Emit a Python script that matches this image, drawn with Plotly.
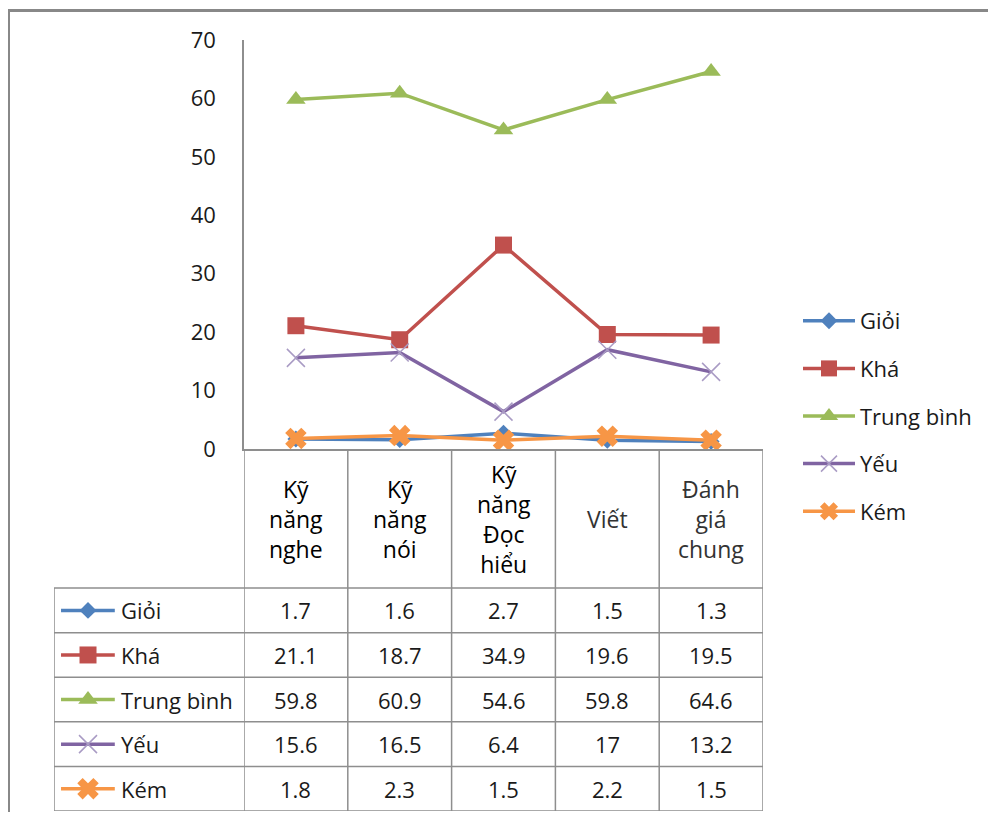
import plotly.graph_objects as go

# ---- data ----
categories = ["Kỹ năng nghe", "Kỹ năng nói", "Kỹ năng Đọc hiểu", "Viết", "Đánh giá chung"]
header_labels = ["Kỹ<br>năng<br>nghe", "Kỹ<br>năng<br>nói", "Kỹ<br>năng<br>Đọc<br>hiểu", "Viết", "Đánh<br>giá<br>chung"]
series_names = ["Giỏi", "Khá", "Trung bình", "Yếu", "Kém"]
gioi = [1.7, 1.6, 2.7, 1.5, 1.3]
kha = [21.1, 18.7, 34.9, 19.6, 19.5]
trung_binh = [59.8, 60.9, 54.6, 59.8, 64.6]
yeu = [15.6, 16.5, 6.4, 17, 13.2]
kem = [1.8, 2.3, 1.5, 2.2, 1.5]
y_ticks = [0, 10, 20, 30, 40, 50, 60, 70]

values = [gioi, kha, trung_binh, yeu, kem]
colors = ["#4F81BD", "#C0504D", "#9BBB59", "#8064A2", "#F79646"]
symbols = ["diamond", "square", "triangle-up", "x-thin", "x"]
msizes = [13, 17, 17, 18, 19]
mline_colors = ["#4F81BD", "#C0504D", "#9BBB59", "#A99BC4", "#F79646"]
mline_widths = [0, 0, 0, 1.5, 0]

# page has an 8px body margin, so the figure is shrunk to fit the window
OFF = 8
W, H = 996 - 2 * OFF, 820 - 2 * OFF
FONT = "Open Sans"
TXT = "#1a1a1a"
GRID = "#8e8e8e"


def fx(p):
    return (p - OFF) / W


def fy(p):
    return 1 - (p - OFF) / H


HDR = 3.12          # header height in table-row units
NROW = len(series_names)
TOT = HDR + NROW

fig = go.Figure()

# main lines
for name, vals, c, s, ms, mlc, mlw in zip(series_names, values, colors, symbols, msizes, mline_colors, mline_widths):
    fig.add_trace(go.Scatter(
        x=categories, y=vals, name=name, mode="lines+markers",
        line=dict(color=c, width=3.5),
        marker=dict(symbol=s, size=ms, color=c, opacity=1, line=dict(color=mlc, width=mlw)),
        legendgroup=name, xaxis="x", yaxis="y",
    ))

# legend keys inside the data table
key_x = [0.037, 0.179, 0.32]
for r, (name, c, s, ms, mlc, mlw) in enumerate(zip(series_names, colors, symbols, msizes, mline_colors, mline_widths)):
    yy = HDR + r + 0.5
    fig.add_trace(go.Scatter(
        x=key_x, y=[yy] * 3, mode="lines+markers", showlegend=False, hoverinfo="skip",
        line=dict(color=c, width=3.5),
        marker=dict(symbol=s, size=[0, ms, 0], color=c, opacity=1, line=dict(color=mlc, width=mlw)),
        xaxis="x3", yaxis="y2",
    ))

shapes = []
annotations = []

# table grid
for k in range(NROW + 1):
    shapes.append(dict(type="line", xref="paper", yref="y2", x0=fx(54), x1=fx(763),
                       y0=HDR + k, y1=HDR + k, line=dict(color=GRID, width=1.5)))
for i in range(len(categories) + 1):
    shapes.append(dict(type="line", xref="x", yref="y2", x0=i - 0.5, x1=i - 0.5,
                       y0=0, y1=TOT, line=dict(color=GRID, width=1.5)))
shapes.append(dict(type="line", xref="x3", yref="y2", x0=0, x1=0, y0=HDR, y1=TOT,
                   line=dict(color=GRID, width=1.5)))

# outer chart border
shapes.append(dict(type="rect", xref="paper", yref="paper", x0=fx(8.5), x1=1.1, y0=-0.1, y1=fy(10.5),
                   line=dict(color="#888888", width=3), fillcolor="rgba(0,0,0,0)"))

# header labels
for i, lab in enumerate(header_labels):
    annotations.append(dict(xref="x", yref="y2", x=i, y=HDR / 2, text=lab, showarrow=False,
                            font=dict(family=FONT, size=23, color="#000000" if i < 3 else "#333333"),
                            xanchor="center", yanchor="middle", align="center"))

# row labels and cell values
for r, (name, vals) in enumerate(zip(series_names, values)):
    yy = HDR + r + 0.5
    annotations.append(dict(xref="x3", yref="y2", x=0.34, y=yy, text=name, showarrow=False,
                            font=dict(family=FONT, size=22, color=TXT), xanchor="left", yanchor="middle"))
    for i, v in enumerate(vals):
        annotations.append(dict(xref="x", yref="y2", x=i, y=yy, text=f"{v:g}", showarrow=False,
                                font=dict(family=FONT, size=22, color=TXT), xanchor="center", yanchor="middle"))

fig.update_layout(
    width=W, height=H,
    margin=dict(l=0, r=0, t=0, b=0, autoexpand=False),
    paper_bgcolor="white", plot_bgcolor="white",
    font=dict(family=FONT, size=22, color=TXT),
    showlegend=True,
    legend=dict(x=fx(798), y=fy(300), xanchor="left", yanchor="top",
                font=dict(family=FONT, size=22, color=TXT),
                traceorder="grouped", tracegroupgap=16, itemwidth=52,
                bgcolor="rgba(0,0,0,0)"),
    xaxis=dict(domain=[fx(244), fx(763)], range=[-0.5, 4.5], type="category",
               categoryorder="array", categoryarray=categories, automargin=False,
               showticklabels=False, ticks="", showgrid=False, zeroline=False,
               showline=True, linecolor=GRID, linewidth=1.5, anchor="y"),
    yaxis=dict(domain=[fy(449), fy(40)], range=[0, 70], tickvals=y_ticks, automargin=False,
               showgrid=False, zeroline=False, showline=True, linecolor=GRID, linewidth=1.5,
               ticks="", ticklabelstandoff=22, tickfont=dict(family=FONT, size=22, color=TXT),
               anchor="x"),
    xaxis3=dict(domain=[fx(54), fx(244)], range=[0, 1], visible=False, anchor="y2", automargin=False),
    yaxis2=dict(domain=[fy(811), fy(449)], range=[TOT, 0], visible=False, anchor="x3", automargin=False),
    shapes=shapes,
    annotations=annotations,
)

fig.write_html("out.html")
